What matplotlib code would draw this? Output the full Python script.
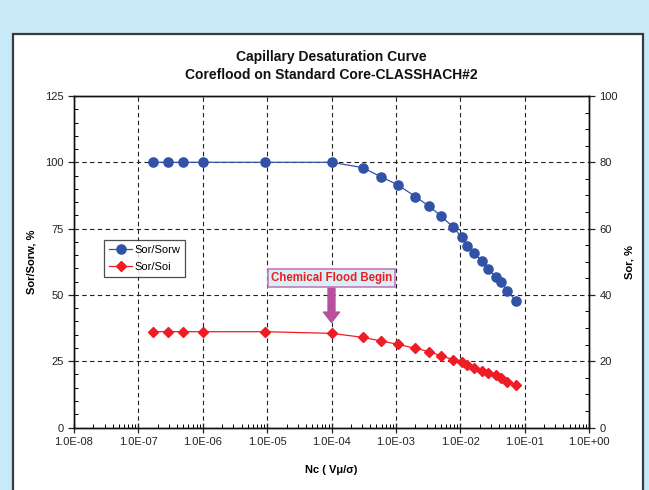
import matplotlib
matplotlib.use("Agg")
import matplotlib.pyplot as plt
from matplotlib.patches import Rectangle
from matplotlib.ticker import LogLocator, MultipleLocator, NullFormatter, FixedLocator

plt.rcParams['font.family'] = ['Liberation Sans', 'DejaVu Sans']

# ---- data ----
nc = [1.71e-7, 2.86e-7, 4.89e-7, 1.0e-6, 9.3e-6, 1.0e-4, 3.05e-4, 5.9e-4,
      1.07e-3, 2.0e-3, 3.3e-3, 5.0e-3, 7.8e-3, 1.06e-2, 1.29e-2, 1.64e-2,
      2.18e-2, 2.73e-2, 3.59e-2, 4.3e-2, 5.4e-2, 7.4e-2]
sor_sorw = [100, 100, 100, 100, 100, 100, 98.0, 94.5, 91.5, 87.1, 83.4, 79.8,
            75.5, 71.7, 68.6, 65.8, 62.7, 59.7, 56.9, 55.0, 51.5, 47.7]
sor = [28.9, 28.9, 28.9, 28.9, 28.9, 28.4, 27.2, 26.1, 25.1, 23.9, 22.9, 21.6,
       20.5, 19.7, 19.0, 17.8, 17.1, 16.3, 15.8, 14.9, 13.8, 12.7]
xtick_vals = [1e-8, 1e-7, 1e-6, 1e-5, 1e-4, 1e-3, 1e-2, 1e-1, 1e0]
xtick_labels = ["1.0E-08", "1.0E-07", "1.0E-06", "1.0E-05", "1.0E-04",
                "1.0E-03", "1.0E-02", "1.0E-01", "1.0E+00"]
title_text = "Capillary Desaturation Curve\nCoreflood on Standard Core-CLASSHACH#2"
annot_text = "Chemical Flood Begin"
annot_x = 1e-4

BLUE = "#3152a6"
RED = "#ee1c24"

fig = plt.figure(figsize=(6.49, 4.90), dpi=100)
fig.patch.set_facecolor("#c8e9f8")
# white panel
panel = Rectangle((13 / 649, -0.05), (643 - 13) / 649, 1.05 - 34 / 490,
                  transform=fig.transFigure, facecolor="white",
                  edgecolor="#3a3a3a", linewidth=1.6, zorder=-10)
fig.patches.append(panel)

ax = fig.add_axes([74 / 649, 1 - 427.5 / 490, (589 - 74) / 649, (427.5 - 96) / 490])
ax.set_facecolor("none")
ax.set_xscale("log")
ax.set_xlim(1e-8, 1e0)
ax.set_ylim(0, 125)

ax2 = ax.twinx()
ax2.set_ylim(0, 100)
ax2.set_facecolor("none")

l1, = ax.plot(nc, sor_sorw, color=BLUE, lw=0.9, marker="o", markersize=6.6,
              markerfacecolor=BLUE, markeredgecolor=BLUE, zorder=5, label="Sor/Sorw")
l2, = ax2.plot(nc, sor, color=RED, lw=0.9, marker="D", markersize=5.4,
               markerfacecolor=RED, markeredgecolor=RED, zorder=5, label="Sor/Soi")

# ticks
ax.xaxis.set_major_locator(FixedLocator(xtick_vals))
ax.set_xticklabels(xtick_labels)
ax.xaxis.set_minor_locator(LogLocator(base=10, subs=range(2, 10), numticks=20))
ax.xaxis.set_minor_formatter(NullFormatter())
ax.yaxis.set_major_locator(MultipleLocator(25))
ax.yaxis.set_minor_locator(MultipleLocator(5))
ax2.yaxis.set_major_locator(MultipleLocator(20))
ax2.yaxis.set_minor_locator(MultipleLocator(5))

ax.tick_params(axis="x", which="major", direction="inout", length=7, width=0.9,
               labelsize=8, pad=3, colors="#222222")
ax.tick_params(axis="x", which="minor", direction="in", length=3, width=0.7)
ax.tick_params(axis="y", which="major", direction="out", length=4, width=0.9,
               labelsize=8, colors="#222222")
ax.tick_params(axis="y", which="minor", direction="in", length=3, width=0.7)
ax2.tick_params(axis="y", which="major", direction="out", length=4, width=0.9,
                labelsize=8, colors="#222222")
ax2.tick_params(axis="y", which="minor", direction="in", length=3, width=0.7)
for a in (ax, ax2):
    for s in a.spines.values():
        s.set_linewidth(1.0)
        s.set_color("#111111")

ax.grid(True, which="major", color="#222222", linestyle=(0, (4, 3)), linewidth=0.8)
ax.set_axisbelow(True)

fig.text((74 + 589) / 2 / 649, 1 - 66 / 490, title_text, ha="center", va="center",
         fontsize=10, fontweight="bold", linespacing=1.3, color="#111111")
ax.set_xlabel("Nc ( V\u03bc/\u03c3)", fontsize=8, fontweight="bold", labelpad=13)
ax.set_ylabel("Sor/Sorw, %", fontsize=8, fontweight="bold", labelpad=6)
ax2.set_ylabel("Sor, %", fontsize=8, fontweight="bold", labelpad=5)

leg = ax2.legend(handles=[l1, l2], loc="lower left",
                 bbox_to_anchor=(0.058, 0.454), borderaxespad=0, fontsize=8,
                 frameon=True, fancybox=False, edgecolor="#222222",
                 handlelength=2.1, borderpad=0.45, labelspacing=0.65,
                 handletextpad=0.2)
leg.get_frame().set_linewidth(0.9)
leg.set_zorder(10)

ax2.annotate(annot_text, xy=(annot_x, 39.6 * 0.8), xytext=(annot_x, 56.4 * 0.8),
             ha="center", va="center", fontsize=8.3, fontweight="bold", color=RED,
             bbox=dict(boxstyle="square,pad=0.28", facecolor="#d6f0f6",
                       edgecolor="#c67ab9", linewidth=1.2),
             arrowprops=dict(arrowstyle="simple,head_width=1.4,head_length=0.9,tail_width=0.6",
                             facecolor="#b8509e", edgecolor="#b8509e",
                             shrinkA=0, shrinkB=0),
             zorder=12)

fig.savefig("out.png", dpi=100, facecolor=fig.get_facecolor())
